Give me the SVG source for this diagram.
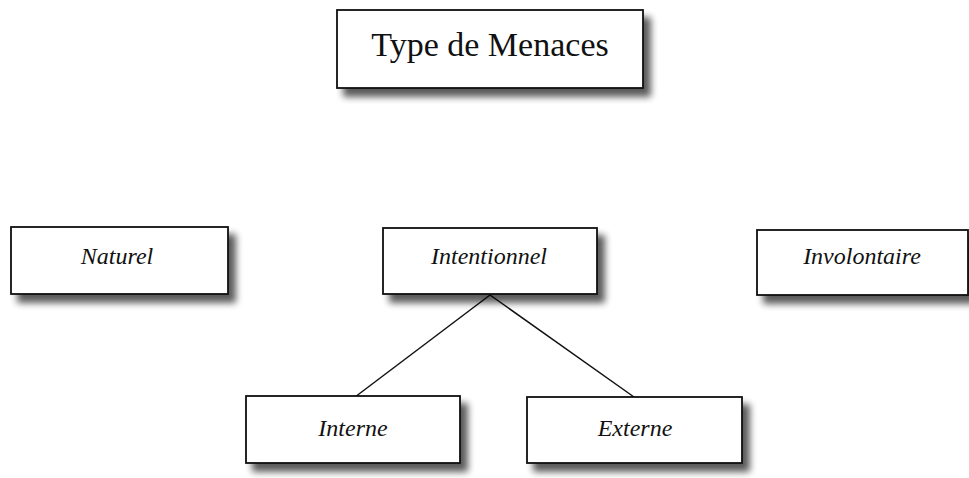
<svg xmlns="http://www.w3.org/2000/svg" width="969" height="478" viewBox="0 0 969 478">
  <defs>
    <filter id="drop" x="-10%" y="-20%" width="130%" height="160%">
      <feGaussianBlur in="SourceAlpha" stdDeviation="3.5" result="blur"/>
      <feOffset in="blur" dx="7" dy="8" result="off"/>
      <feComponentTransfer in="off" result="soft">
        <feFuncA type="linear" slope="0.65"/>
      </feComponentTransfer>
      <feMerge>
        <feMergeNode in="soft"/>
        <feMergeNode in="SourceGraphic"/>
      </feMerge>
    </filter>
  </defs>
  <style>
    .box { fill: #ffffff; stroke: #111111; stroke-width: 1.8; filter: url(#drop); }
    .title { font-family: "Liberation Serif", "Times New Roman", serif; font-size: 34px; fill: #111111; text-anchor: middle; }
    .label { font-family: "Liberation Serif", "Times New Roman", serif; font-size: 24px; font-style: italic; fill: #111111; text-anchor: middle; }
    .link { stroke: #111111; stroke-width: 1.5; fill: none; }
  </style>
  <rect width="969" height="478" fill="#ffffff"/>

  <g id="connectors">
    <line class="link" x1="490" y1="295" x2="355" y2="397"/>
    <line class="link" x1="490" y1="295" x2="634" y2="397"/>
  </g>

  <g id="type-de-menaces">
    <rect class="box" x="337" y="10" width="306" height="78"/>
    <text class="title" x="490" y="56">Type de Menaces</text>
  </g>

  <g id="naturel">
    <rect class="box" x="11" y="227" width="217" height="67"/>
    <text class="label" x="117" y="264">Naturel</text>
  </g>

  <g id="intentionnel">
    <rect class="box" x="383" y="228" width="214" height="66"/>
    <text class="label" x="489" y="264">Intentionnel</text>
  </g>

  <g id="involontaire">
    <rect class="box" x="757" y="230" width="211" height="65"/>
    <text class="label" x="862" y="264">Involontaire</text>
  </g>

  <g id="interne">
    <rect class="box" x="246" y="396" width="214" height="67"/>
    <text class="label" x="353" y="436">Interne</text>
  </g>

  <g id="externe">
    <rect class="box" x="527" y="397" width="215" height="66"/>
    <text class="label" x="635" y="436">Externe</text>
  </g>
</svg>
